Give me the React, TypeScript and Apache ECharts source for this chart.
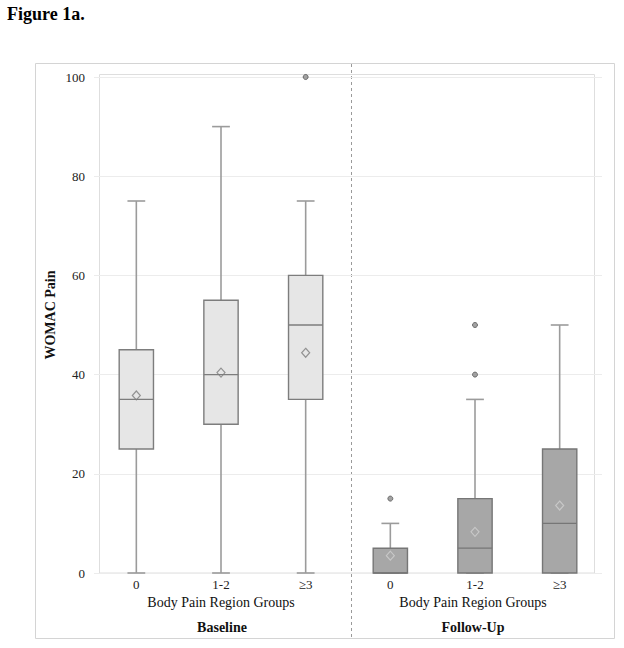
import React, { useEffect, useRef } from "react";
import * as echarts from "echarts";

const periods = ["Baseline", "Follow-Up"];
const painGroups = ["0", "1-2", "≥3"];
const mins = [0, 0, 0, 0, 0, 0];
const q1s = [25, 30, 35, 0, 0, 0];
const medians = [35, 40, 50, 0, 5, 10];
const q3s = [45, 55, 60, 5, 15, 25];
const maxs = [75, 90, 75, 10, 35, 50];
const means = [35.8, 40.4, 44.4, 3.5, 8.3, 13.6];
const outliers: [number, number][] = [
  [2, 100],
  [3, 15],
  [4, 40],
  [4, 50],
];
const yTicks = [0, 20, 40, 60, 80, 100];

const SERIF = '"Liberation Serif", "Times New Roman", serif';

export default function App() {
  const ref = useRef<HTMLDivElement>(null);
  useEffect(() => {
    if (!ref.current) return;
    const chart = echarts.init(ref.current, undefined, { renderer: "svg" });
    const cats = periods.flatMap((p) => painGroups.map((g) => `${p}:${g}`));
    const boxData = cats.map((_, i) => [i, mins[i], q1s[i], medians[i], q3s[i], maxs[i]]);

    const text = (t: string, x: number, y: number, font: string, extra: any = {}) => ({
      type: "text",
      x,
      y,
      silent: true,
      ...extra,
      style: {
        text: t,
        font,
        fill: "#111",
        textAlign: "center",
        textVerticalAlign: "middle",
        align: "center",
        verticalAlign: "middle",
      },
    });

    chart.setOption({
      animation: false,
      textStyle: { fontFamily: SERIF },
      grid: { left: 94, right: 22, top: 77, bottom: 75 },
      xAxis: {
        type: "category",
        data: cats,
        boundaryGap: true,
        axisLine: { show: false },
        axisTick: { show: false },
        splitLine: { show: false },
        axisLabel: {
          formatter: (v: string) => v.split(":")[1],
          fontFamily: SERIF,
          fontSize: 13,
          color: "#222",
          margin: 5,
        },
      },
      yAxis: {
        type: "value",
        min: yTicks[0],
        max: yTicks[yTicks.length - 1],
        interval: 20,
        axisLine: { show: false },
        axisTick: { show: false },
        axisLabel: { fontFamily: SERIF, fontSize: 13, color: "#222", margin: 9 },
        splitLine: { lineStyle: { color: "#ececec", width: 1 } },
      },
      graphic: [
        {
          type: "rect",
          silent: true,
          shape: { x: 35.5, y: 63.5, width: 579, height: 575 },
          style: { fill: "none", stroke: "#d4d4d4", lineWidth: 1 },
        },
        {
          type: "rect",
          silent: true,
          shape: { x: 99.5, y: 74.5, width: 495, height: 498.5 },
          style: { fill: "none", stroke: "#dedede", lineWidth: 1 },
        },
        {
          type: "line",
          silent: true,
          shape: { x1: 351.5, y1: 64, x2: 351.5, y2: 638 },
          style: { stroke: "#9a9a9a", lineWidth: 1, lineDash: [3, 3] },
        },
        {
          type: "text",
          x: 7,
          y: 14,
          silent: true,
          style: {
            text: "Figure 1a.",
            font: `bold 18px ${SERIF}`,
            fill: "#000",
            textAlign: "left",
            textVerticalAlign: "middle",
            align: "left",
            verticalAlign: "middle",
          },
        },
        text("WOMAC Pain", 50, 315, `bold 14px ${SERIF}`, { rotation: Math.PI / 2 }),
        text("Body Pain Region Groups", 221, 602, `14px ${SERIF}`),
        text("Body Pain Region Groups", 473, 602, `14px ${SERIF}`),
        text("Baseline", 222, 627, `bold 14px ${SERIF}`),
        text("Follow-Up", 473, 627, `bold 14px ${SERIF}`),
      ],
      series: [
        {
          type: "custom",
          data: boxData,
          encode: { x: 0, y: [1, 2, 3, 4, 5] },
          z: 2,
          renderItem: (params: any, api: any) => {
            const i = api.value(0);
            const x = api.coord([i, 0])[0];
            const yMin = api.coord([i, api.value(1)])[1];
            const yQ1 = api.coord([i, api.value(2)])[1];
            const yMed = api.coord([i, api.value(3)])[1];
            const yQ3 = api.coord([i, api.value(4)])[1];
            const yMax = api.coord([i, api.value(5)])[1];
            const band = api.size([1, 0])[0];
            const bw = band * 0.405;
            const cw = band * 0.21;
            const follow = i >= 3;
            const fill = follow ? "#a7a7a7" : "#e6e6e6";
            const border = follow ? "#767676" : "#7d7d7d";
            const wStyle = { stroke: "#9b9b9b", lineWidth: 1.6 };
            return {
              type: "group",
              children: [
                { type: "line", shape: { x1: x, y1: yQ3, x2: x, y2: yMax }, style: wStyle },
                { type: "line", shape: { x1: x, y1: yMin, x2: x, y2: yQ1 }, style: wStyle },
                { type: "line", shape: { x1: x - cw / 2, y1: yMax, x2: x + cw / 2, y2: yMax }, style: wStyle },
                { type: "line", shape: { x1: x - cw / 2, y1: yMin, x2: x + cw / 2, y2: yMin }, style: wStyle },
                {
                  type: "rect",
                  shape: { x: x - bw / 2, y: yQ3, width: bw, height: yQ1 - yQ3 },
                  style: { fill, stroke: border, lineWidth: 1.4 },
                },
                {
                  type: "line",
                  shape: { x1: x - bw / 2, y1: yMed, x2: x + bw / 2, y2: yMed },
                  style: { stroke: border, lineWidth: 1.3 },
                },
              ],
            };
          },
        },
        {
          type: "scatter",
          z: 3,
          symbol: "diamond",
          symbolSize: [8, 9],
          data: means.map((m, i) => ({
            value: [i, m],
            itemStyle: {
              color: "rgba(0,0,0,0)",
              borderColor: i >= 3 ? "#cfcfcf" : "#7d7d7d",
              borderWidth: 1.2,
            },
          })),
        },
        {
          type: "scatter",
          z: 3,
          symbol: "circle",
          symbolSize: 5,
          itemStyle: { color: "#8c8c8c", borderColor: "#555", borderWidth: 1 },
          data: outliers.map(([i, v]) => [i, v]),
        },
      ],
    });
    return () => chart.dispose();
  }, []);
  return (
    <div
      ref={ref}
      style={{ position: "absolute", left: 0, top: 0, width: 624, height: 648, background: "#fff" }}
    />
  );
}
